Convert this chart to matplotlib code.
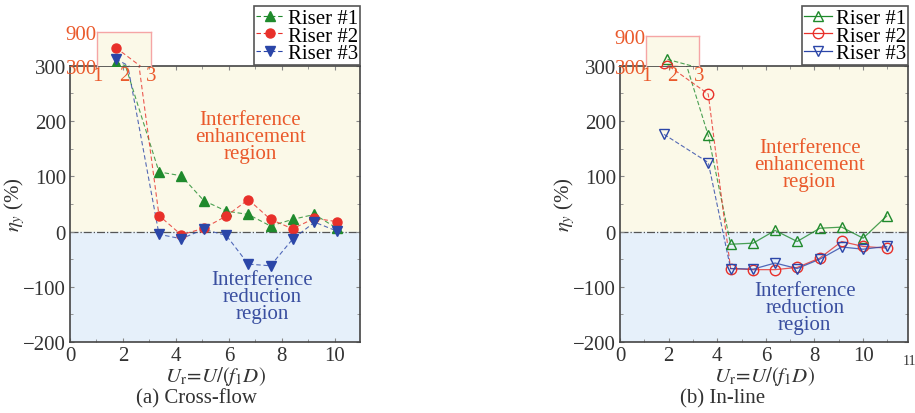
import matplotlib
matplotlib.use("Agg")
import matplotlib.pyplot as plt
from matplotlib.ticker import MultipleLocator

plt.rcParams["font.family"] = ["Liberation Serif", "DejaVu Serif"]
plt.rcParams["mathtext.fontset"] = "stix"

# ---- data ----
riser_labels = ["Riser #1", "Riser #2", "Riser #3"]

x_cf = [1.70, 3.36, 4.20, 5.05, 5.90, 6.73, 7.57, 8.40, 9.23, 10.07]
cf_r1 = [360, 108, 101, 56, 37, 31, 10, 22, 31, 6]
cf_r2 = [625, 29, -6, 6, 28, 58, 22, 5, 24, 18]
cf_r3 = [425, -5, -13, 4, -7, -59, -62, -14, 17, 1]

x_il = [1.81, 3.63, 4.55, 5.48, 6.38, 7.29, 8.22, 9.12, 10.00, 10.97]
il_r1 = [433, 174, -23, -21, 2, -18, 6, 8, -12, 28]
il_r2 = [306, 249, -67, -69, -69, -65, -48, -18, -27, -30]
il_r3 = [176, 125, -67, -68, -57, -67, -50, -28, -32, -27]

colors = ["#1f8a2c", "#e8302a", "#2b46a8"]
markers = ["^", "o", "v"]

YEL = "#fbf9e8"
BLU = "#e6f0fa"
ORANGE = "#ea5a2c"
TXT_BLUE = "#3a4fa0"
GRAY = "#333333"
FS = 15

fig = plt.figure(figsize=(9.15, 4.14), dpi=100)


def style_main(ax, xmax, ylab_x):
    ax.set_xlim(0, xmax)
    ax.set_ylim(-200, 300)
    ax.axhspan(0, 300, color=YEL, zorder=0)
    ax.axhspan(-200, 0, color=BLU, zorder=0)
    ax.axhline(0, color="#555555", lw=0.9, ls="-.", zorder=1)
    ax.xaxis.set_major_locator(MultipleLocator(2))
    ax.xaxis.set_minor_locator(MultipleLocator(1))
    ax.yaxis.set_major_locator(MultipleLocator(100))
    ax.yaxis.set_minor_locator(MultipleLocator(50))
    ax.tick_params(which="both", direction="in", top=True, right=True,
                   colors="#888888", labelcolor=GRAY, labelsize=FS)
    ax.tick_params(which="major", length=3, pad=3)
    ax.tick_params(which="minor", length=2)
    for s in ax.spines.values():
        s.set_color("#444444")
        s.set_linewidth(1.2)
    ax.set_ylabel(r"$\eta_y$ (%)", fontsize=FS, color=GRAY)
    ax.yaxis.set_label_coords(ylab_x, 0.5)
    ax.set_xlabel(r"$U_{\rm r}\!=\!U/(f_1D)$", fontsize=FS, color=GRAY, labelpad=-1)


def make_inset(rect):
    ins = fig.add_axes(rect, zorder=3)
    ins.set_facecolor(YEL)
    ins.set_xlim(1, 3)
    ins.set_ylim(300, 900)
    ins.set_xticks([1, 2, 3])
    ins.set_yticks([300, 900])
    ins.tick_params(length=0, labelsize=FS, labelcolor=ORANGE, pad=0)
    for s in ins.spines.values():
        s.set_color("#f5a5a5")
        s.set_linewidth(1.0)
    ins.spines["bottom"].set_visible(False)
    return ins


def add_legend(ax):
    leg = ax.legend(loc="upper right", bbox_to_anchor=(1.0, 1.215), fontsize=FS,
                    frameon=True, fancybox=False, handlelength=1.3,
                    handletextpad=0.2, borderpad=0.1, labelspacing=-0.1,
                    borderaxespad=0)
    leg.get_frame().set_edgecolor("#555555")
    leg.get_frame().set_linewidth(1.2)
    leg.get_frame().set_alpha(1)
    leg.set_zorder(5)


# ---------------- (a) Cross-flow ----------------
ax1 = fig.add_axes([0.0765, 0.1715, 0.317, 0.667])
style_main(ax1, 10.95, -0.148)
ins1 = make_inset([0.106, 0.838, 0.059, 0.082])
for ys, c, m, lab in zip([cf_r1, cf_r2, cf_r3], colors, markers, riser_labels):
    for a in (ax1, ins1):
        a.plot(x_cf, ys, ls=(0, (4, 2.5)), lw=0.8, color=c, alpha=0.8, zorder=2)
        a.plot(x_cf, ys, ls="none", marker=m, ms=6.5, color=c, zorder=3)
    ax1.plot([], [], ls=(0, (4, 2.5)), lw=0.8, color=c, marker=m, ms=6.5, label=lab)

ax1.text(6.8, 172, "Interference\nenhancement\nregion", color=ORANGE,
         fontsize=FS, ha="center", va="center", linespacing=0.85)
ax1.text(7.25, -118, "Interference\nreduction\nregion", color=TXT_BLUE,
         fontsize=FS, ha="center", va="center", linespacing=0.85)
add_legend(ax1)
fig.text(0.215, 0.025, "(a) Cross-flow", fontsize=FS, color=GRAY, ha="center")

# ---------------- (b) In-line ----------------
ax2 = fig.add_axes([0.6776, 0.1715, 0.3148, 0.667])
style_main(ax2, 11.85, -0.15)
ins2 = make_inset([0.706, 0.838, 0.058, 0.073])
for ys, c, m, lab in zip([il_r1, il_r2, il_r3], colors, markers, riser_labels):
    for a in (ax2, ins2):
        a.plot(x_il[:3], ys[:3], ls=(0, (4, 2)), lw=0.8, color=c, alpha=0.8, zorder=2)
        a.plot(x_il[2:], ys[2:], ls="-", lw=0.9, color=c, alpha=0.8, zorder=2)
        a.plot(x_il, ys, ls="none", marker=m, ms=7.5, mfc="none", mec=c,
               mew=1.0, zorder=3)
    ax2.plot([], [], ls="-", lw=0.9, color=c, marker=m, ms=7.5, mfc="none",
             mec=c, label=lab)

ax2.text(7.8, 122, "Interference\nenhancement\nregion", color=ORANGE,
         fontsize=FS, ha="center", va="center", linespacing=0.85)
ax2.text(7.6, -138, "Interference\nreduction\nregion", color=TXT_BLUE,
         fontsize=FS, ha="center", va="center", linespacing=0.85)
add_legend(ax2)
fig.text(0.9945, 0.118, "11", fontsize=10, color=GRAY, ha="center")
fig.text(0.79, 0.025, "(b) In-line", fontsize=FS, color=GRAY, ha="center")

fig.savefig("out.png", dpi=100)
